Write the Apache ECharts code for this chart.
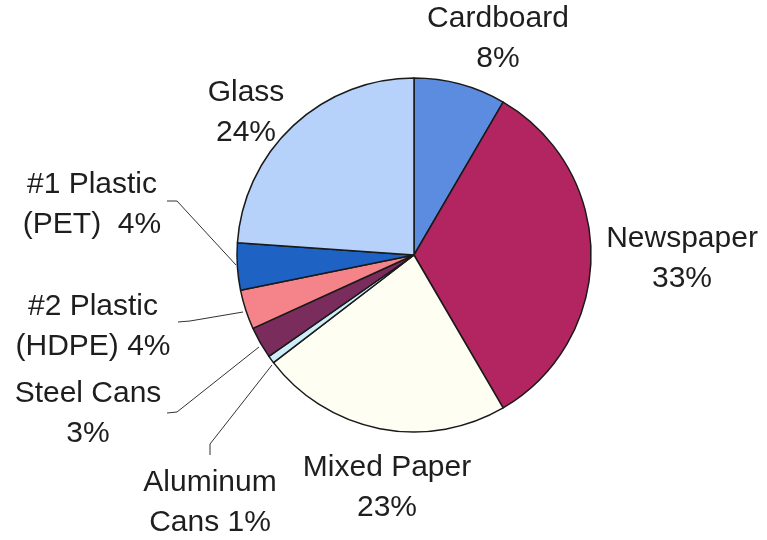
<!DOCTYPE html>
<html>
<head>
<meta charset="utf-8">
<script src="https://cdn.jsdelivr.net/npm/echarts@6/dist/echarts.min.js"></script>
<style>html,body{margin:0;padding:0;background:#fff;}#c{width:767px;height:540px;}</style>
</head>
<body>
<div id="c"></div>
<script>
// Data
const names = ['Cardboard', 'Newspaper', 'Mixed Paper', 'Aluminum\nCans', 'Steel Cans', '#2 Plastic\n(HDPE)', '#1 Plastic\n(PET) ', 'Glass'];
const values = [8.4, 33.2, 23.0, 0.7, 2.9, 3.6, 4.3, 23.9];
const colors = ['#5b8ce0', '#b32560', '#fffef2', '#cdeef8', '#7a2c5c', '#f4848a', '#1e62c4', '#b6d2fa'];

// Label placement (style)
const labelPos = [
  [498, 39], [682, 259], [387, 488], [210, 503],
  [88, 414], [93, 327], [92, 205], [246, 113]
];
const linePts = [
  null, null, null,
  [[210, 455], [210, 444], [272, 365]],
  [[167, 413], [177, 412], [259, 347]],
  [[178, 322], [190, 321], [243, 312]],
  [[167, 201], [177, 201], [236, 265]],
  null
];

const total = values.reduce((a, b) => a + b, 0);
const data = names.map((n, i) => ({
  name: n,
  value: values[i],
  itemStyle: { color: colors[i] },
  labelLine: { show: !!linePts[i] }
}));

const chart = echarts.init(document.getElementById('c'), null, { renderer: 'canvas' });
chart.setOption({
  backgroundColor: '#ffffff',
  animation: false,
  series: [{
    type: 'pie',
    center: [414, 255],
    radius: [0, 177],
    startAngle: 90,
    clockwise: true,
    data: data,
    avoidLabelOverlap: false,
    itemStyle: { borderColor: '#1a1a1a', borderWidth: 1.5 },
    emphasis: { disabled: true },
    label: {
      show: true,
      position: 'outside',
      overflow: 'none',
      color: '#1e1e1e',
      fontFamily: 'Liberation Sans, Arial, sans-serif',
      fontSize: 30,
      lineHeight: 40,
      align: 'center',
      formatter: function (p) {
        const pct = Math.round(p.value / total * 100);
        return p.name + (p.name.indexOf('\n') >= 0 ? ' ' : '\n') + pct + '%';
      }
    },
    labelLine: {
      show: true,
      lineStyle: { color: '#333', width: 1 }
    },
    labelLayout: function (params) {
      const i = params.dataIndex;
      const r = {
        x: labelPos[i][0],
        y: labelPos[i][1],
        align: 'center',
        verticalAlign: 'middle'
      };
      if (linePts[i]) r.labelLinePoints = linePts[i];
      return r;
    }
  }]
});
</script>
</body>
</html>
